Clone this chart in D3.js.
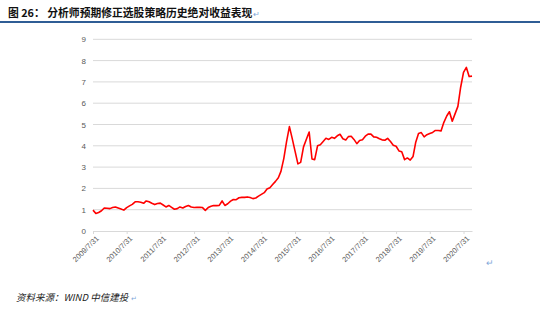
<!DOCTYPE html>
<html>
<head>
<meta charset="utf-8">
<script src="https://cdn.jsdelivr.net/npm/d3@7"></script>
<style>
  body { margin: 0; background: #fff; }
  svg { display: block; font-family: "Noto Sans CJK SC", "Liberation Sans", sans-serif; }
</style>
</head>
<body>
<script>
// monthly absolute return, start of series = 2009/7/31, month-end values
var startDate = "2009-07-31";
var values = [
  0.98, 0.82, 0.87, 0.95, 1.08, 1.07, 1.05, 1.10, 1.13, 1.08, 1.03, 0.98,   // 2009/7 - 2010/6
  1.10, 1.18, 1.25, 1.37, 1.37, 1.35, 1.30, 1.41, 1.37, 1.30, 1.24, 1.29,   // 2010/7 - 2011/6
  1.31, 1.22, 1.13, 1.20, 1.11, 1.02, 1.05, 1.13, 1.08, 1.15, 1.20, 1.13,   // 2011/7 - 2012/6
  1.10, 1.11, 1.11, 1.10, 0.97, 1.10, 1.16, 1.20, 1.19, 1.20, 1.41, 1.20,   // 2012/7 - 2013/6
  1.28, 1.40, 1.48, 1.47, 1.56, 1.58, 1.58, 1.60, 1.57, 1.52, 1.55, 1.64,   // 2013/7 - 2014/6
  1.72, 1.80, 1.97, 2.03, 2.18, 2.33, 2.50, 2.80, 3.40, 4.20, 4.90, 4.35,   // 2014/7 - 2015/6
  3.75, 3.15, 3.22, 3.95, 4.30, 4.65, 3.38, 3.35, 4.00, 4.05, 4.20, 4.35,   // 2015/7 - 2016/6
  4.30, 4.40, 4.35, 4.47, 4.54, 4.33, 4.27, 4.43, 4.45, 4.30, 4.10, 4.25,   // 2016/7 - 2017/6
  4.28, 4.45, 4.55, 4.55, 4.42, 4.40, 4.33, 4.28, 4.26, 4.35, 4.20, 4.03,   // 2017/7 - 2018/6
  3.98, 3.76, 3.72, 3.35, 3.43, 3.33, 3.50, 4.15, 4.58, 4.62, 4.42, 4.52,   // 2018/7 - 2019/6
  4.58, 4.63, 4.72, 4.72, 4.70, 5.10, 5.40, 5.60, 5.15, 5.50, 5.85, 6.75,   // 2019/7 - 2020/6
  7.45, 7.68, 7.25, 7.27                                                    // 2020/7 - 2020/10
];
var tickLabels = ["2009/7/31", "2010/7/31", "2011/7/31", "2012/7/31", "2013/7/31", "2014/7/31",
                  "2015/7/31", "2016/7/31", "2017/7/31", "2018/7/31", "2019/7/31", "2020/7/31"];
var yTicks = [0, 1, 2, 3, 4, 5, 6, 7, 8, 9];

var title = "图 26： 分析师预期修正选股策略历史绝对收益表现";
var source = "资料来源：WIND  中信建投";

var parseDay = d3.timeParse("%Y/%m/%d");
var start = d3.timeParse("%Y-%m-%d")(startDate);
var data = values.map(function(v, i) {
  var d = d3.timeMonth.offset(d3.timeMonth.floor(start), i + 1);
  return { date: d3.timeDay.offset(d, -1), value: v };
});

var width = 550, height = 313;
var margin = {top: 39, right: 78, bottom: 82, left: 93};

var svg = d3.select("body").append("svg")
  .attr("width", width)
  .attr("height", height);

// header
svg.append("text")
  .attr("x", 8).attr("y", 17)
  .attr("font-size", 10.8).attr("font-weight", "bold")
  .attr("fill", "#111")
  .text(title);
svg.append("text")
  .attr("x", 253).attr("y", 17)
  .attr("font-size", 8).attr("fill", "#7fa7d9")
  .text("↵");
svg.append("line")
  .attr("x1", 0).attr("x2", 540)
  .attr("y1", 22).attr("y2", 22)
  .attr("stroke", "#2f5d95").attr("stroke-width", 2);

var x = d3.scaleTime()
  .domain(d3.extent(data, function(d) { return d.date; }))
  .range([margin.left, 472]);

var y = d3.scaleLinear()
  .domain([0, 9])
  .range([231, 39.3]);

// grid
svg.append("g")
  .selectAll("line")
  .data(yTicks.slice(1))
  .enter().append("line")
  .attr("x1", margin.left).attr("x2", 472)
  .attr("y1", function(d) { return y(d); })
  .attr("y2", function(d) { return y(d); })
  .attr("stroke", "#d9d9d9").attr("stroke-width", 1);

// y labels
var yAxis = d3.axisLeft(y).tickValues(yTicks).tickSize(0).tickPadding(7);
svg.append("g")
  .attr("transform", "translate(" + margin.left + ",0)")
  .call(yAxis)
  .call(function(g) { g.select(".domain").remove(); })
  .selectAll("text")
  .attr("font-size", 8)
  .attr("fill", "#595959")
  .attr("font-family", "Liberation Sans, sans-serif");

// x axis
var tickDates = tickLabels.map(parseDay);
var xAxis = d3.axisBottom(x)
  .tickValues(tickDates)
  .tickFormat(d3.timeFormat("%Y/%-m/%d"))
  .tickSize(3)
  .tickSizeOuter(0);
var gx = svg.append("g")
  .attr("transform", "translate(0," + y(0) + ")")
  .call(xAxis);
gx.select(".domain").attr("stroke", "#d9d9d9");
gx.selectAll(".tick line").attr("stroke", "#d9d9d9");
gx.selectAll("text")
  .attr("font-size", 7.5)
  .attr("fill", "#595959")
  .attr("font-family", "Liberation Sans, sans-serif")
  .attr("text-anchor", "end")
  .attr("dx", "-0.2em")
  .attr("dy", "0.5em")
  .attr("transform", "rotate(-45)");

// series
var line = d3.line()
  .x(function(d) { return x(d.date); })
  .y(function(d) { return y(d.value); });

svg.append("path")
  .datum(data)
  .attr("fill", "none")
  .attr("stroke", "#ff0000")
  .attr("stroke-width", 1.6)
  .attr("stroke-linejoin", "round")
  .attr("d", line);

svg.append("text")
  .attr("x", 486).attr("y", 266)
  .attr("font-size", 9).attr("fill", "#7fa7d9")
  .text("↵");

// source
svg.append("text")
  .attr("x", 16).attr("y", 301)
  .attr("font-size", 9.5).attr("font-style", "italic")
  .attr("fill", "#222")
  .text(source);
svg.append("text")
  .attr("x", 131).attr("y", 301)
  .attr("font-size", 7).attr("fill", "#7fa7d9")
  .text("↵");
</script>
</body>
</html>
